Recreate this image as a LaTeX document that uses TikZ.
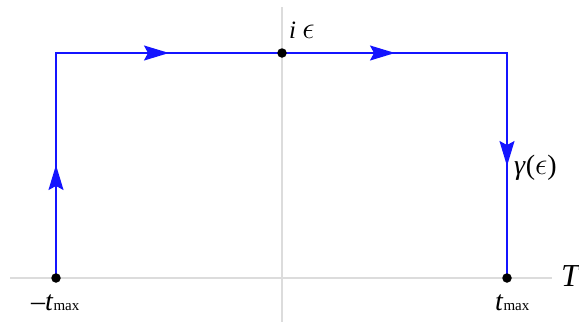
\documentclass[tikz,border=0pt]{standalone}
\usepackage{graphicx}
\usepackage{fontspec}
\setmainfont{Liberation Serif}
\usetikzlibrary{arrows.meta}
\definecolor{axisgray}{RGB}{220,220,220}
\definecolor{pathblue}{RGB}{20,20,255}
\newcommand{\bigeps}{\scalebox{1.25}{$\epsilon$}}
\begin{document}
\begin{tikzpicture}[x=1pt,y=-1pt,
  axisline/.style={draw=axisgray,line width=1.2pt},
  contour/.style={draw=pathblue,line width=1.3pt},
  arrowpiece/.style={draw=pathblue,line width=1.3pt,-{Stealth[length=25pt,width=15pt,inset=4pt]}},
  dotnode/.style={circle,fill=black,inner sep=0pt,minimum size=9.5pt},
  lbl/.style={inner sep=0pt,anchor=base west}]
\useasboundingbox (0,0) rectangle (579,322);
% axes
\coordinate (xl) at (10,278);
\coordinate (xr) at (552,278);
\coordinate (yt) at (282,7);
\coordinate (yb) at (282,322);
\draw[axisline] (xl) -- (xr);
\draw[axisline] (yt) -- (yb);
% contour corners
\coordinate (A) at (56,278);
\coordinate (B) at (56,53);
\coordinate (C) at (507,53);
\coordinate (D) at (507,278);
\draw[contour] (A) -- (B) -- (C) -- (D);
% arrowheads
\coordinate (a1s) at (56,200); \coordinate (a1) at (56,165);
\coordinate (a2s) at (130,53); \coordinate (a2) at (169,53);
\coordinate (a3s) at (356,53); \coordinate (a3) at (395,53);
\coordinate (a4s) at (507,130); \coordinate (a4) at (507,166);
\draw[arrowpiece] (a1s) -- (a1);
\draw[arrowpiece] (a2s) -- (a2);
\draw[arrowpiece] (a3s) -- (a3);
\draw[arrowpiece] (a4s) -- (a4);
% dots
\node[dotnode] (pM) at (282,53) {};
\node[dotnode] (pA) at (A) {};
\node[dotnode] (pD) at (D) {};
% labels
\node[lbl,font=\fontsize{25}{25}\selectfont] (leps) at (289,38) {\textit{i} \bigeps};
\node[lbl,font=\fontsize{28}{28}\selectfont] (lgam) at (514,174) {\textit{γ}(\bigeps)};
\node[lbl] (ltmin) at (31,310) {\fontsize{28}{28}\selectfont –\textit{t}\fontsize{15}{15}\selectfont max};
\node[lbl] (ltmax) at (495,310) {\fontsize{28}{28}\selectfont \textit{t}\fontsize{15}{15}\selectfont max};
\node[lbl,font=\fontsize{32}{32}\selectfont] (lT) at (561,286) {\textit{T}};
\end{tikzpicture}
\end{document}
